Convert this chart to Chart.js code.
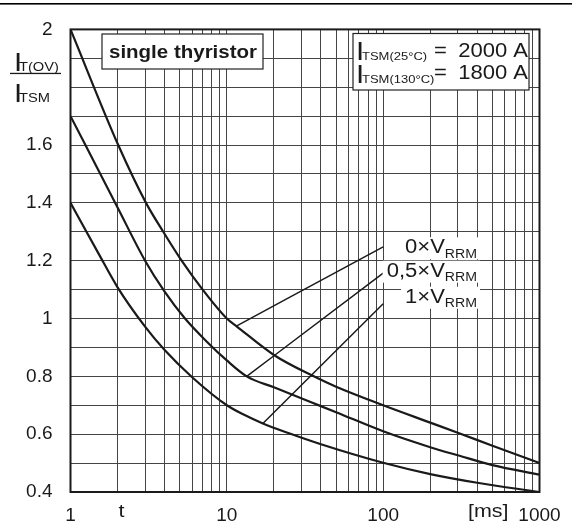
<!DOCTYPE html>
<html><head><meta charset="utf-8">
<script src="https://cdn.jsdelivr.net/npm/chart.js@4"></script>
<style>html,body{margin:0;padding:0;background:#fff}#wrap{width:575px;height:529px}</style>
</head><body><div id="wrap"><canvas id="c" width="575" height="529"></canvas></div>
<script>
// ---- data ----
const t0 = [1,2.02,3.04,3.92,5.14,7,10,11.5,20,36,50,100,200,300,500,1000];
const v0 = [2.0,1.6,1.4,1.3,1.2,1.1,1.0,0.974,0.874,0.80,0.764,0.70,0.64,0.605,0.56,0.50];
const tHalf = [1,2,3,4,5.4,7.45,10,13.4,20,34,50,100,200,300,500,1000];
const vHalf = [1.70,1.384,1.20,1.093,1.0,0.92,0.855,0.80,0.762,0.712,0.676,0.61,0.555,0.527,0.493,0.46];
const tOne = [1,1.5,2,3,4,6,10,13,17,25,40,100,200,400,1000];
const vOne = [1.4,1.228,1.108,0.972,0.891,0.797,0.70,0.666,0.637,0.603,0.565,0.501,0.462,0.432,0.40];
const lead0T = [11.5,100], lead0V = [0.974,1.248];
const leadHalfT = [13.4,100], leadHalfV = [0.80,1.157];
const leadOneT = [17,100], leadOneV = [0.637,1.051];
const xLabels = ['1','10','100','1000'];
const yLabels = ['0.4','0.6','0.8','1','1.2','1.4','1.6','2'];
const curveLabels = [['0×V','RRM'],['0,5×V','RRM'],['1×V','RRM']];
const boxTitle = 'single thyristor';
const itsmLines = [['TSM(25°C)','2000 A'],['TSM(130°C)','1800 A']];

const pts = (ts, vs) => ts.map((t,i)=>({x:t,y:vs[i]}));
const FONT = '"Liberation Sans", Arial, sans-serif';
const SX = 1.13;

function txt(ctx, s, x, y, size, bold, align){
  ctx.save();
  ctx.font = (bold?'bold ':'') + size + 'px ' + FONT;
  const w = ctx.measureText(s).width * SX;
  let xx = x;
  if (align === 'right') xx = x - w;
  ctx.translate(xx, y); ctx.scale(SX, 1);
  ctx.textAlign = 'left'; ctx.textBaseline = 'alphabetic';
  ctx.fillText(s, 0, 0);
  ctx.restore();
  return w;
}
function wid(ctx, s, size, bold){
  ctx.save(); ctx.font = (bold?'bold ':'') + size + 'px ' + FONT;
  const w = ctx.measureText(s).width * SX; ctx.restore(); return w;
}

const annot = {
  id: 'annot',
  beforeDraw(chart){
    const ctx = chart.ctx;
    ctx.save(); ctx.fillStyle = '#000'; ctx.fillRect(0, 3, 572, 1.6); ctx.restore();
  },
  afterDatasetsDraw(chart){
    const {ctx, chartArea:a, scales:{x, y}} = chart;
    ctx.save();
    ctx.strokeStyle = '#1a1a1a'; ctx.lineWidth = 2;
    ctx.strokeRect(a.left, a.top, a.right - a.left, a.bottom - a.top);
    ctx.fillStyle = '#1a1a1a';

    // single thyristor box
    ctx.fillStyle = '#fff'; ctx.fillRect(102, 34, 161, 35);
    ctx.strokeStyle = '#222'; ctx.lineWidth = 1.2; ctx.strokeRect(102, 34, 161, 35);
    ctx.fillStyle = '#1a1a1a';
    ctx.save(); ctx.font = 'bold 18px ' + FONT;
    const tw = ctx.measureText(boxTitle).width;
    ctx.translate(109, 58); ctx.scale(148 / tw, 1); ctx.fillText(boxTitle, 0, 0); ctx.restore();

    // ITSM box
    ctx.fillStyle = '#fff'; ctx.fillRect(353, 33.5, 176, 56.5);
    ctx.strokeRect(353, 33.5, 176, 56.5);
    ctx.fillStyle = '#1a1a1a';
    [[57, 60], [79, 83]].forEach((b, i) => {
      txt(ctx, 'I', 356, b[1], 26, false);
      txt(ctx, itsmLines[i][0], 362, b[1], 11.5, false);
      txt(ctx, '=', 434, b[0], 19.5, false);
      txt(ctx, itsmLines[i][1], 528, b[0], 19.5, false, 'right');
    });

    // curve labels
    const rightX = 477;
    const base = [[253.3, 257.7], [276.7, 281], [302.7, 307]];
    base.forEach((b, i) => {
      const wm = wid(ctx, curveLabels[i][0], 19.5), ws = wid(ctx, curveLabels[i][1], 12.5);
      const x0 = rightX - wm - ws;
      ctx.fillStyle = '#fff'; ctx.fillRect(x0 - 4, b[0] - 16, wm + ws + 7, 22);
    });
    base.forEach((b, i) => {
      const wm = wid(ctx, curveLabels[i][0], 19.5), ws = wid(ctx, curveLabels[i][1], 12.5);
      const x0 = rightX - wm - ws;
      ctx.fillStyle = '#1a1a1a';
      txt(ctx, curveLabels[i][0], x0, b[0], 19.5, false);
      txt(ctx, curveLabels[i][1], x0 + wm, b[1], 12.5, false);
    });
    ctx.restore();

    // axis extra labels and y title (fraction)
    ctx.save();
    ctx.fillStyle = '#1a1a1a';
    txt(ctx, 'I', 14, 71, 26, false);
    txt(ctx, 'T(OV)', 19, 71, 13, false);
    ctx.fillRect(10, 72.8, 51, 1.3);
    txt(ctx, 'I', 14, 102.3, 26, false);
    txt(ctx, 'TSM', 19, 102.3, 13, false);
    const yb = a.bottom + 27;
    txt(ctx, 't', x.getPixelForValue(2) + 1, yb - 2, 19, false);
    const msX = x.getPixelForValue(470);
    txt(ctx, '[ms]', msX - wid(ctx, '[ms]', 19) / 2, yb - 2, 19, false);
    ctx.restore();
  }
};

const lineDs = (data, w) => ({
  data, borderColor: '#1a1a1a', borderWidth: w, pointRadius: 0, showLine: true,
  fill: false, cubicInterpolationMode: 'monotone'
});

new Chart(document.getElementById('c'), {
  type: 'scatter',
  data: { datasets: [
    lineDs(pts(t0, v0), 2.2),
    lineDs(pts(tHalf, vHalf), 2.2),
    lineDs(pts(tOne, vOne), 2.2),
    lineDs(pts(lead0T, lead0V), 1.5),
    lineDs(pts(leadHalfT, leadHalfV), 1.5),
    lineDs(pts(leadOneT, leadOneV), 1.5)
  ]},
  options: {
    responsive: false, animation: false, devicePixelRatio: 1,
    layout: { padding: { left: 0, right: 35.5, top: 24, bottom: 0 } },
    plugins: { legend: { display: false }, tooltip: { enabled: false } },
    scales: {
      x: {
        type: 'logarithmic', min: 1, max: 1000,
        afterBuildTicks: s => {
          const v = [];
          [1, 10, 100].forEach(d => { for (let k = 1; k < 10; k++) v.push(k * d); });
          v.push(1000);
          s.ticks = v.map(value => ({ value }));
        },
        afterFit: s => { s.height = 37; },
        grid: { color: '#444', lineWidth: 1, drawTicks: false },
        border: { display: false },
        ticks: {
          autoSkip: false, maxRotation: 0, padding: 12, color: '#1a1a1a',
          font: { family: FONT, size: 19 },
          callback: v => { const i = [1, 10, 100, 1000].indexOf(v); return i >= 0 ? xLabels[i] : ''; }
        }
      },
      y: {
        type: 'linear', min: 0.4, max: 2,
        afterBuildTicks: s => {
          const v = []; for (let k = 4; k <= 20; k++) v.push(k / 10);
          s.ticks = v.map(value => ({ value }));
        },
        afterFit: s => { s.width = 70.5; },
        grid: { color: '#444', lineWidth: 1, drawTicks: false },
        border: { display: false },
        ticks: {
          autoSkip: false, padding: 18, color: '#1a1a1a',
          font: { family: FONT, size: 19 },
          callback: v => {
            const k = Math.round(v * 10);
            const map = {4:0, 6:1, 8:2, 10:3, 12:4, 14:5, 16:6, 20:7};
            return (k in map) ? yLabels[map[k]] : '';
          }
        }
      }
    }
  },
  plugins: [annot]
});
</script></body></html>
